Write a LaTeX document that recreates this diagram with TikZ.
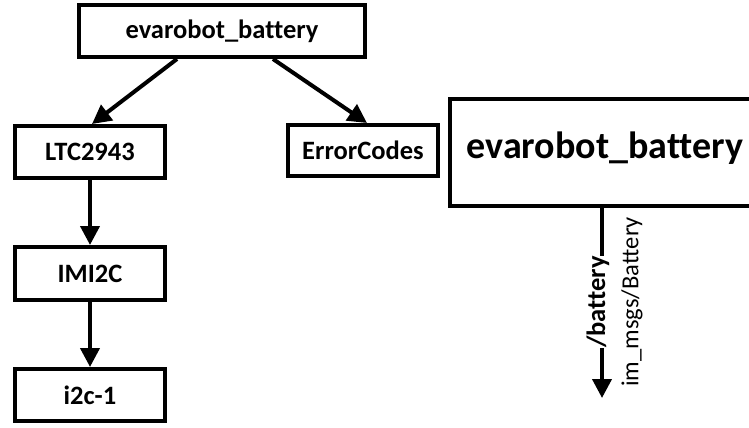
\documentclass[tikz,border=0pt]{standalone}
\usepackage{fontspec}
\setmainfont{Carlito}[Ligatures=NoCommon]
\usetikzlibrary{arrows.meta,calc}
\tikzset{
  box/.style={draw=black, line width=4pt, fill=white, inner sep=0pt, font=\fontsize{26.5}{30}\selectfont\bfseries},
  conn/.style={line width=4pt, -{Triangle[length=19pt,width=19pt]}},
}
\begin{document}
\begin{tikzpicture}[x=1pt,y=-1pt]
\useasboundingbox (0,0) rectangle (749,428);
\clip (0,0) rectangle (749,428);
\node[box, minimum width=286pt, minimum height=52pt] (top) at (222,31) {evarobot\_battery};
\node[box, minimum width=150pt, minimum height=52pt] (ltc) at (90,152) {LTC2943};
\node[box, minimum width=150pt, minimum height=53pt] (imi) at (90,273.5) {IMI2C};
\node[box, minimum width=150pt, minimum height=52pt] (i2c) at (90,395) {i2c-1};
\node[box, minimum width=150pt, minimum height=51pt] (err) at (363,150.5) {ErrorCodes};
\node[box, minimum width=310pt, minimum height=107pt, font=\fontsize{38}{42}\selectfont\bfseries, text depth=14pt] (big) at (605,152.5) {evarobot\_battery};
\coordinate (end) at (602,398);
\draw[conn] ($(top.south)+(-45,0)$) -- ($(ltc.north)+(2,0)$);
\draw[conn] ($(top.south)+(51,0)$) -- ($(err.north)+(4,0)$);
\draw[conn] (ltc.south) -- (imi.north);
\draw[conn] (imi.south) -- (i2c.north);
\draw[conn] (big.south -| end) -- (end);
\node[rotate=90, fill=white, font=\fontsize{26.5}{30}\selectfont\bfseries, inner sep=0.5pt] (lbl) at (598,302) {/battery};
\node[rotate=90, font=\fontsize{24.5}{28}\selectfont, inner sep=0pt] (typ) at (632,302) {im\_msgs/Battery};
\end{tikzpicture}
\end{document}
